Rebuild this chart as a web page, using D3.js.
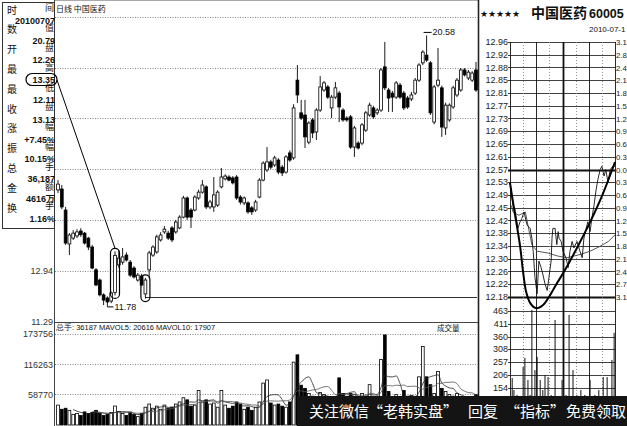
<!DOCTYPE html>
<html><head><meta charset="utf-8">
<script src="https://cdn.jsdelivr.net/npm/d3@7/dist/d3.min.js"></script>
<style>
html,body{margin:0;padding:0;background:#fff;overflow:hidden}
svg{display:block}
text{font-family:"Liberation Sans",Arial,sans-serif}
.cjk{font-family:"Noto Sans CJK SC","Noto Sans",sans-serif}
</style></head><body>
<svg id="chart" width="627" height="426" viewBox="0 0 627 426"></svg>
<script>
// ---------- daily candles (日线 中国医药) ----------
const opens = [15.57,15.60,14.92,13.82,14.01,14.08,14.24,14.17,14.01,13.72,12.98,12.65,12.17,12.07,11.97,12.25,13.14,13.23,13.46,13.23,13.04,12.65,12.78,12.20,12.98,13.46,13.56,13.95,14.21,14.17,14.34,14.21,14.34,14.69,15.31,14.92,14.92,15.31,15.50,15.67,15.02,15.02,15.08,15.67,15.93,15.99,15.96,15.99,15.34,15.15,15.15,14.99,14.92,15.34,15.89,16.22,16.48,16.38,16.54,16.31,16.15,16.77,16.61,19.13,18.07,18.00,17.12,17.84,17.45,18.16,18.81,18.91,18.23,18.58,18.71,18.16,17.90,17.94,16.96,17.09,17.09,17.51,18.00,18.23,18.07,18.16,19.56,18.81,18.71,18.58,18.97,18.71,18.55,18.52,18.71,19.13,19.69,19.94,19.69,17.77,18.97,18.88,17.58,17.84,18.26,18.65,18.81,19.46,19.20,19.13,19.46];
const highs = [15.89,15.73,15.02,14.17,14.27,14.30,14.33,14.21,14.05,13.79,13.04,12.70,12.22,12.12,12.28,13.58,13.62,13.69,13.55,13.30,13.10,12.88,12.85,12.72,13.60,13.78,14.12,14.20,14.40,14.25,14.40,14.60,14.75,15.38,15.36,14.98,15.40,15.58,15.89,15.72,15.25,15.99,15.56,16.28,16.08,16.05,16.02,16.05,15.40,15.36,15.20,15.05,15.25,15.95,16.50,16.96,16.55,16.68,16.60,16.38,16.70,16.85,18.35,19.62,18.49,18.49,17.80,17.90,18.22,19.26,19.10,18.97,18.65,19.07,18.78,18.22,17.96,18.00,17.65,17.15,17.74,18.13,18.40,18.30,18.22,19.52,20.37,18.88,18.78,19.10,19.04,18.78,18.62,18.75,19.20,19.68,20.10,20.58,19.75,18.97,20.17,18.95,18.40,18.38,18.95,19.20,19.52,19.52,19.46,19.42,19.72];
const lows = [15.47,14.95,13.79,13.46,13.95,14.01,14.05,13.80,13.62,13.00,12.45,12.12,11.84,11.78,11.90,12.15,13.05,13.15,13.25,12.75,12.70,12.60,12.45,12.05,12.70,13.40,13.50,13.90,14.15,13.95,13.88,14.15,14.30,14.65,14.60,14.34,14.88,15.25,15.45,14.95,14.95,14.86,15.02,15.62,15.88,15.85,15.75,15.25,15.10,15.08,14.80,14.76,14.86,15.30,15.85,16.15,16.25,16.32,16.08,16.02,16.10,16.48,16.55,18.39,17.84,16.93,17.05,17.25,17.19,18.10,18.75,18.52,17.90,18.52,17.77,17.78,17.78,16.90,16.64,16.88,17.02,17.45,17.95,17.88,18.00,18.10,18.81,18.10,18.10,18.52,18.52,18.16,18.20,18.45,18.65,19.07,19.62,19.72,18.00,17.70,18.90,17.29,17.35,17.78,18.20,18.58,18.75,19.25,19.13,19.07,18.75];
const closes = [15.76,15.02,13.85,14.11,14.17,14.21,14.12,13.85,13.72,13.04,12.49,12.17,12.00,11.94,12.23,13.45,13.36,13.40,13.30,12.81,12.75,12.81,12.49,12.65,13.53,13.72,14.05,14.11,14.30,14.01,13.95,14.53,14.69,15.31,14.69,14.69,15.34,15.50,15.73,15.02,15.18,15.41,15.50,15.99,16.02,15.89,15.80,15.31,15.18,15.31,14.86,14.86,15.18,15.89,16.44,16.48,16.31,16.61,16.15,16.12,16.64,16.54,18.23,18.65,17.90,17.29,17.74,17.42,18.16,18.91,19.04,18.58,18.58,18.88,18.26,17.84,17.84,16.96,17.58,16.93,17.68,18.07,18.32,17.94,18.16,19.46,18.88,18.55,18.58,19.04,18.58,18.23,18.26,18.65,19.13,19.62,20.04,19.78,18.07,18.91,19.13,17.61,18.32,18.32,18.88,19.13,19.46,19.30,19.39,19.36,18.81];
const volumes = [38000,30000,32000,28000,20000,22000,18000,25000,22000,24000,28000,22000,18000,20000,24000,36187,26000,22000,18000,24000,20000,16000,22000,34000,40000,32000,36000,30000,38000,32000,34000,40000,44000,52000,48000,36000,38000,66000,44000,48000,40000,42000,34000,66000,38000,32000,36000,44000,40000,30000,34000,28000,34000,44000,80000,86000,42000,38000,40000,36000,34000,44000,120000,134000,76000,70000,60000,55000,50000,62000,58000,50000,48000,52000,90000,60000,50000,60000,58000,42000,60000,55000,77000,52000,48000,125000,172000,64000,50000,58000,52000,66000,48000,56000,50000,92000,150000,92000,77000,60000,102000,70000,64000,58000,55000,60000,52000,48000,50000,54000,58000];
const priceGrid = [12.94,14.59,16.24,17.89,19.54,21.19];
const leftPriceLabels = [12.94,11.29];
const volGrid = [58770,116263,173756];

// ---------- info panel ----------
const infoLabels = [["时","间"],["数","值"],["开","盘"],["最","高"],["最","低"],["收","盘"],["涨","幅"],["振","幅"],["总","手"],["金","额"],["换","手"]];
const infoValues = ["20100707","20.79","12.26","13.35","12.11","13.13","+7.45%","10.15%","36,187","4616万","1.16%"];

// ---------- intraday (分时) ----------
const intraMin = [0,7,11,18,23,27,32,39,46,50,53,57,62,66,71,75,80,85,89,94,96,98,103,107,110,112,117,121,128,133,137,142,146,153,160,165,169,174,178,183,187,192,197,201,206,210,215,219,224,229,235,240];
const intraPx = [12.53,12.46,12.45,12.39,12.41,12.42,12.44,12.40,12.39,12.36,12.32,12.24,12.19,12.29,12.27,12.25,12.22,12.20,12.24,12.29,12.36,12.39,12.39,12.34,12.38,12.36,12.35,12.32,12.30,12.27,12.32,12.35,12.33,12.35,12.32,12.30,12.36,12.39,12.41,12.38,12.42,12.46,12.51,12.54,12.57,12.58,12.55,12.57,12.53,12.57,12.58,12.58];
const avgMin = [3,7,20,35,41,50,62,85,110,130,160,183,206,225,240];
const avgPx = [12.46,12.44,12.43,12.44,12.40,12.34,12.32,12.315,12.305,12.30,12.31,12.32,12.335,12.35,12.37];
const intraVolMin = [5,9,16,23,30,34,41,46,50,57,62,69,75,80,87,94,103,110,119,128,135,144,153,162,171,183,194,203,213,222,233,238];
const intraVol = [193,145,125,105,238,274,185,125,467,225,278,185,145,205,197,125,427,105,185,125,447,225,125,145,125,185,125,145,197,197,266,375];
const intraPriceTicks = ["12.96","12.92","12.88","12.85","12.81","12.77","12.73","12.69","12.65","12.61","12.57","12.53","12.49","12.45","12.42","12.38","12.34","12.30","12.26","12.22","12.18"];
const intraPctTicks = ["3.1","2.8","2.4","2.1","1.8","1.5","1.2","0.9","0.6","0.3","0.0","0.3","0.6","0.9","1.2","1.5","1.8","2.1","2.4","2.7","3.1"];
const intraVolTicks = [463,411,360,308,257,206,154];
const intraVolGridVals = [463,411,360,308,257,206,154,103,51];
const intraMinGrid = [0,30,60,90,120,150,180,210,240];
const trendMin = [0,9,23,30,37,46,59,75,89,105,126,153,183,213,240];
const trendPx = [12.529,12.452,12.336,12.256,12.195,12.162,12.146,12.155,12.18,12.217,12.263,12.33,12.409,12.498,12.593];

const svg = d3.select("#chart");
const N = opens.length;
const xK = d3.scaleLinear().domain([0, N-1]).range([58, 476]);
const yP = d3.scaleLinear().domain([11.29, 21.19]).range([322, 16.6]);
const yV = d3.scaleLinear().domain([0, 173756]).range([425, 334]);
const px = v => Math.round(v) + 0.5;

// frame
svg.append("line").attr("x1",55).attr("x2",478).attr("y1",0.5).attr("y2",0.5).attr("stroke","#aaa");
svg.append("line").attr("x1",54.5).attr("x2",54.5).attr("y1",0).attr("y2",426).attr("stroke","#444");
svg.selectAll("line.pg").data(priceGrid).join("line").attr("class","pg")
  .attr("x1",55).attr("x2",477).attr("y1",d=>px(yP(d))).attr("y2",d=>px(yP(d)))
  .attr("stroke","#888").attr("stroke-dasharray","1,1.5");
svg.selectAll("line.vg").data(volGrid).join("line").attr("class","vg")
  .attr("x1",55).attr("x2",477).attr("y1",d=>px(yV(d))).attr("y2",d=>px(yV(d)))
  .attr("stroke","#888").attr("stroke-dasharray","1,1.5");
svg.append("line").attr("x1",55).attr("x2",478).attr("y1",322.5).attr("y2",322.5).attr("stroke","#444");

// axes labels
const axP = svg.append("g").attr("transform","translate(54,0)")
  .call(d3.axisLeft(yP).tickValues(leftPriceLabels).tickSize(0).tickPadding(1).tickFormat(d3.format(".2f")));
axP.select(".domain").remove();
axP.selectAll("text").attr("font-size",9).attr("fill","#333").attr("font-family","Liberation Sans");
const axV = svg.append("g").attr("transform","translate(54,0)")
  .call(d3.axisLeft(yV).tickValues(volGrid).tickSize(0).tickPadding(1).tickFormat(d=>String(d)));
axV.select(".domain").remove();
axV.selectAll("text").attr("font-size",9).attr("fill","#333").attr("font-family","Liberation Sans");

// support line from second low
svg.append("line").attr("x1",xK(23)).attr("x2",477).attr("y1",px(yP(12.10))).attr("y2",px(yP(12.10))).attr("stroke","#333");

// candles
const cg = svg.append("g");
const idx = d3.range(N);
cg.selectAll("line").data(idx).join("line")
  .attr("x1",i=>xK(i)).attr("x2",i=>xK(i)).attr("y1",i=>yP(highs[i])).attr("y2",i=>yP(lows[i]))
  .attr("stroke","#000").attr("stroke-width",0.9);
cg.selectAll("rect").data(idx).join("rect")
  .attr("x",i=>xK(i)-1.4).attr("width",2.8)
  .attr("y",i=>yP(Math.max(opens[i],closes[i])))
  .attr("height",i=>Math.max(0.8,Math.abs(yP(opens[i])-yP(closes[i]))))
  .attr("fill",i=>closes[i]>=opens[i]?"#fff":"#000").attr("stroke","#000").attr("stroke-width",0.8);

// volume bars
const vg = svg.append("g");
vg.selectAll("rect").data(idx).join("rect")
  .attr("x",i=>xK(i)-1.4).attr("width",2.8)
  .attr("y",i=>yV(volumes[i])).attr("height",i=>yV(0)-yV(volumes[i]))
  .attr("fill",i=>closes[i]>=opens[i]?"#fff":"#000").attr("stroke","#000").attr("stroke-width",0.8);
function ma(arr,n){return arr.map((v,i)=> i<n-1?null:d3.mean(arr.slice(i-n+1,i+1)));}
const ma5 = ma(volumes,5), ma10 = ma(volumes,10);
const vline = d3.line().defined(d=>d[1]!=null).x(d=>xK(d[0])).y(d=>yV(d[1])).curve(d3.curveMonotoneX);
svg.append("path").attr("d",vline(ma5.map((v,i)=>[i,v]))).attr("fill","none").attr("stroke","#222").attr("stroke-width",0.8);
svg.append("path").attr("d",vline(ma10.map((v,i)=>[i,v]))).attr("fill","none").attr("stroke","#555").attr("stroke-width",0.8);

// titles
svg.append("text").attr("class","cjk").attr("x",56).attr("y",12).attr("font-size",8).attr("fill","#111").text("日线  中国医药");
svg.append("text").attr("x",56).attr("y",330).attr("font-size",7.5).attr("fill","#111")
  .text("总手: 36187 MAVOL5: 20616 MAVOL10: 17907");
svg.append("text").attr("class","cjk").attr("x",437).attr("y",331).attr("font-size",7.5).attr("fill","#111").text("成交量");

// annotations on candles
const lowI = 13, highI = 97;
svg.append("line").attr("x1",xK(lowI)).attr("x2",xK(lowI)+6).attr("y1",yP(lows[lowI])).attr("y2",yP(lows[lowI])).attr("stroke","#000");
svg.append("text").attr("x",xK(lowI)+7).attr("y",yP(lows[lowI])+3.5).attr("font-size",9).attr("fill","#111").text(lows[lowI].toFixed(2));
svg.append("line").attr("x1",xK(highI)-3).attr("x2",xK(highI)+5).attr("y1",yP(highs[highI])-3).attr("y2",yP(highs[highI])-3).attr("stroke","#000");
svg.append("text").attr("x",xK(highI)+6).attr("y",yP(highs[highI])).attr("font-size",9).attr("fill","#111").text(highs[highI].toFixed(2));
[15,23].forEach(i=>{
  svg.append("rect").attr("x",xK(i)-4.5).attr("width",9)
    .attr("y",yP(highs[i])-3).attr("height",yP(lows[i])-yP(highs[i])+6)
    .attr("rx",4.5).attr("fill","none").attr("stroke","#000").attr("stroke-width",1.2);
});

// info panel
const ip = svg.append("g");
ip.append("rect").attr("x",2.5).attr("y",2.5).attr("width",52).attr("height",226).attr("fill","#fff").attr("stroke","#333");
infoLabels.forEach((pair,k)=>{
  const yy = 10 + 9.9*(2*k) + 3.5;
  ip.append("text").attr("class","cjk").attr("x",7).attr("y",yy).attr("font-size",10).attr("fill","#111").text(pair[0]);
  ip.append("text").attr("class","cjk").attr("x",54).attr("y",yy-2.2).attr("text-anchor","end").attr("font-size",9).attr("fill","#111").text(pair[1]);
});
infoValues.forEach((v,k)=>{
  const yy = 10 + 9.9*(2*k+1) + 3.8;
  ip.append("text").attr("x",55).attr("y",yy).attr("text-anchor","end").attr("font-size",9).attr("font-weight","bold").attr("fill","#111").text(v);
});
ip.append("rect").attr("x",26).attr("y",73.5).attr("width",31).attr("height",12).attr("rx",6)
  .attr("fill","none").attr("stroke","#000").attr("stroke-width",1.2);
svg.append("line").attr("x1",57).attr("y1",80).attr("x2",xK(15)).attr("y2",yP(highs[15])-3)
  .attr("stroke","#000").attr("stroke-width",1);

// ---------- right intraday panel ----------
const rp = svg.append("g");
rp.append("rect").attr("x",478).attr("y",0).attr("width",149).attr("height",426).attr("fill","#fff");
rp.append("line").attr("x1",478.5).attr("x2",478.5).attr("y1",0).attr("y2",426).attr("stroke","#222").attr("stroke-width",1.6);
rp.append("text").attr("x",480).attr("y",17).attr("font-size",9).attr("font-family","DejaVu Sans").attr("fill","#111").text("★★★★★");
rp.append("text").attr("class","cjk").attr("x",531).attr("y",18).attr("font-size",14).attr("font-weight","bold").attr("fill","#111").text("中国医药");
rp.append("text").attr("x",589).attr("y",18).attr("font-size",12.5).attr("font-weight","bold").attr("fill","#111").text("60005");
rp.append("text").attr("x",589).attr("y",32).attr("font-size",8).attr("fill","#111").text("2010-07-1");

const xM = d3.scaleLinear().domain([0,240]).range([510,615]);
const yI = d3.scaleLinear().domain([12.18,12.96]).range([297,42]);
const yIV = d3.scaleLinear().domain([0,463]).range([426,311]);
const tickPrice = k => 12.96 - k*0.039;

rp.selectAll("line.ih").data(intraPriceTicks).join("line").attr("class","ih")
  .attr("x1",508).attr("x2",615).attr("y1",(d,k)=>px(yI(tickPrice(k)))).attr("y2",(d,k)=>px(yI(tickPrice(k))))
  .attr("stroke","#111").attr("stroke-width",(d,k)=>(k===10||k===20)?1.8:0.8);
rp.selectAll("line.ivh").data(intraVolGridVals).join("line").attr("class","ivh")
  .attr("x1",508).attr("x2",615).attr("y1",d=>px(yIV(d))).attr("y2",d=>px(yIV(d)))
  .attr("stroke","#111").attr("stroke-width",0.8);
rp.selectAll("line.iv").data(intraMinGrid).join("line").attr("class","iv")
  .attr("x1",d=>px(xM(d))).attr("x2",d=>px(xM(d))).attr("y1",yI(12.96)).attr("y2",426)
  .attr("stroke",(d,k)=>k%2?"#777":"#111")
  .attr("stroke-dasharray",(d,k)=>k%2?"1,2":null)
  .attr("stroke-width",(d,k)=>k===4?1.8:(k%2?0.8:0.9));
rp.selectAll("text.ipl").data(intraPriceTicks).join("text").attr("class","ipl")
  .attr("x",508).attr("y",(d,k)=>yI(tickPrice(k))+3).attr("text-anchor","end")
  .attr("font-size",9).attr("fill","#222").text(d=>d);
rp.selectAll("text.ipr").data(intraPctTicks).join("text").attr("class","ipr")
  .attr("x",616).attr("y",(d,k)=>yI(tickPrice(k))+3)
  .attr("font-size",7.8).attr("fill","#222").text(d=>d);
rp.selectAll("text.ivl").data(intraVolTicks).join("text").attr("class","ivl")
  .attr("x",508).attr("y",d=>yIV(d)+3).attr("text-anchor","end")
  .attr("font-size",9).attr("fill","#222").text(d=>d);

rp.selectAll("line.ivb").data(intraVol).join("line").attr("class","ivb")
  .attr("x1",(d,k)=>xM(intraVolMin[k])).attr("x2",(d,k)=>xM(intraVolMin[k]))
  .attr("y1",d=>yIV(d)).attr("y2",yIV(0)).attr("stroke","#111").attr("stroke-width",1);

const lI = d3.line().x(d=>xM(d[0])).y(d=>yI(d[1]));
rp.append("path").attr("d",lI(avgMin.map((m,k)=>[m,avgPx[k]]))).attr("fill","none").attr("stroke","#444").attr("stroke-width",0.9);
rp.append("path").attr("d",lI(intraMin.map((m,k)=>[m,intraPx[k]]))).attr("fill","none").attr("stroke","#111").attr("stroke-width",0.9);
const lT = d3.line().x(d=>xM(d[0])).y(d=>yI(d[1])).curve(d3.curveCatmullRom);
rp.append("path").attr("d",lT(trendMin.map((m,k)=>[m,trendPx[k]]))).attr("fill","none").attr("stroke","#000").attr("stroke-width",2);

// ---------- watermark band ----------
const wm = svg.append("g");
wm.append("rect").attr("x",297).attr("y",396).attr("width",330).attr("height",30).attr("fill","#141414");
const wmParts = [["关注微信",309],["“老韩实盘”",368],["回复",468],["“指标”",505],["免费领取",566]];
wmParts.forEach(p=>{
  wm.append("text").attr("class","cjk").attr("x",p[1]).attr("y",417).attr("font-size",15).attr("fill","#fff").text(p[0]);
});
</script></body></html>
